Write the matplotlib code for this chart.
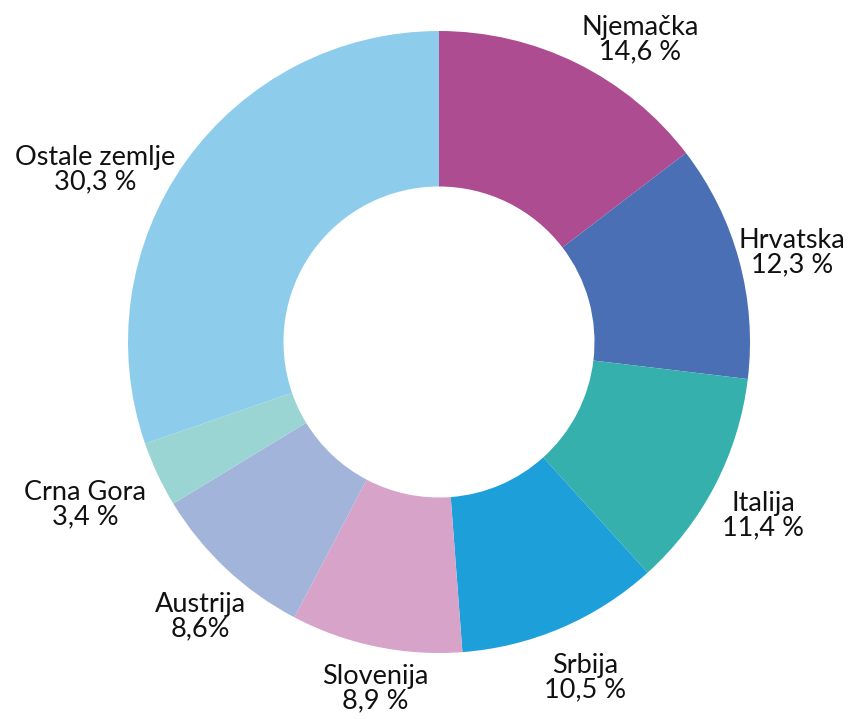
import matplotlib.pyplot as plt

countries = ['Njemačka', 'Hrvatska', 'Italija', 'Srbija', 'Slovenija',
             'Austrija', 'Crna Gora', 'Ostale zemlje']
shares = [14.6, 12.3, 11.4, 10.5, 8.9, 8.6, 3.4, 30.3]
share_labels = ['14,6 %', '12,3 %', '11,4 %', '10,5 %', '8,9 %',
                '8,6%', '3,4 %', '30,3 %']
colors = ['#AD4C91', '#4A6FB5', '#35B0AC', '#1D9FDA', '#D7A3C9',
          '#A3B4DA', '#9BD5D3', '#8DCDEB']
# label centres in pixel coordinates (origin top-left)
label_pos = [(640, 40), (792, 253), (763, 516), (585, 678), (375, 689),
             (200, 617), (85, 505), (95, 170)]

W, H = 853, 719
fig = plt.figure(figsize=(W / 100, H / 100), dpi=100)
ax = fig.add_axes([0, 0, 1, 1])

cx, cy, R = 439, H - 342, 311
ax.pie(shares, colors=colors, startangle=90, counterclock=False,
       center=(cx, cy), radius=R, frame=True,
       wedgeprops=dict(width=R * 0.5, edgecolor='none'))
ax.set_xlim(0, W)
ax.set_ylim(0, H)
ax.set_aspect('equal')
ax.axis('off')

for name, lab, (x, y) in zip(countries, share_labels, label_pos):
    ax.text(x, H - y, name + '\n' + lab, ha='center', va='center',
            multialignment='center', fontsize=19.5, family='Lato',
            color='#111111', linespacing=0.98)

fig.savefig('out.png', dpi=100)
